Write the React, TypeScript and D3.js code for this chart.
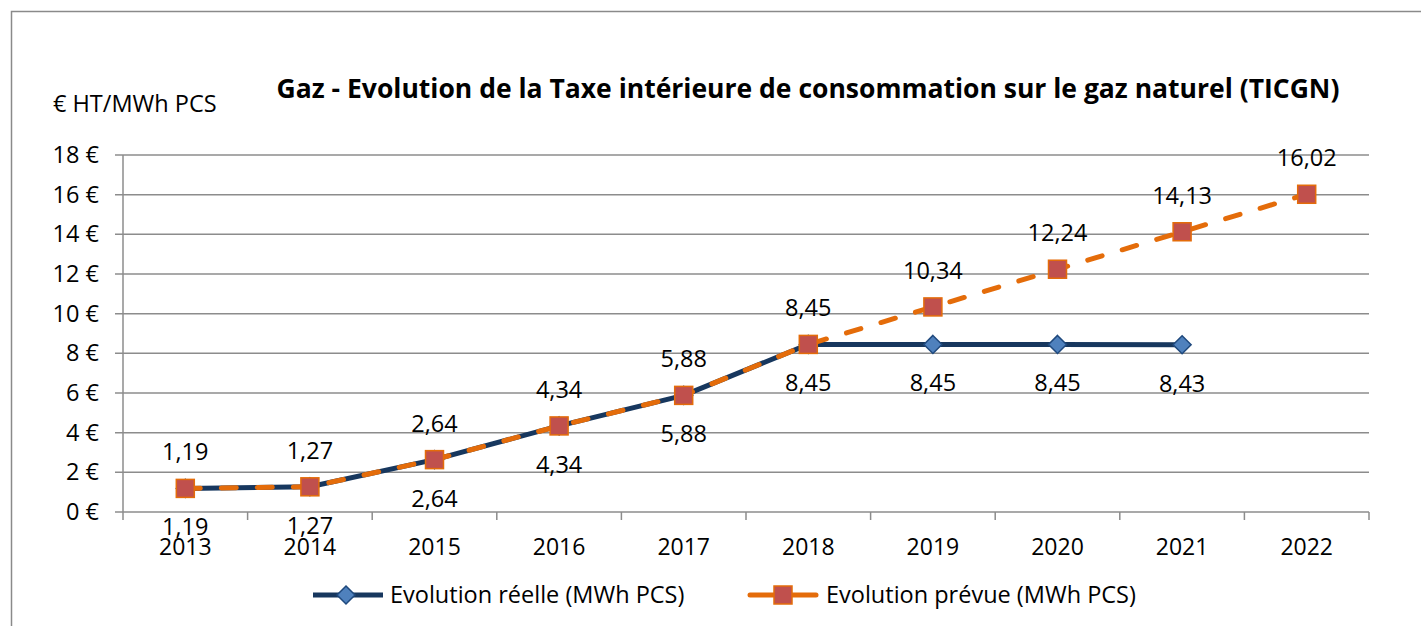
import React from "react";
import * as d3 from "d3";

const years = ["2013", "2014", "2015", "2016", "2017", "2018", "2019", "2020", "2021", "2022"];
const realValues: (number | null)[] = [1.19, 1.27, 2.64, 4.34, 5.88, 8.45, 8.45, 8.45, 8.43, null];
const plannedValues: (number | null)[] = [1.19, 1.27, 2.64, 4.34, 5.88, 8.45, 10.34, 12.24, 14.13, 16.02];
const yTicks = [0, 2, 4, 6, 8, 10, 12, 14, 16, 18];
const title = "Gaz - Evolution de la Taxe intérieure de consommation sur le gaz naturel (TICGN)";
const unitLabel = "€ HT/MWh PCS";
const realName = "Evolution réelle (MWh PCS)";
const plannedName = "Evolution prévue (MWh PCS)";

const W = 1421;
const H = 626;
const FONT = "'Open Sans', sans-serif";
const GRID = "#8c8c8c";
const BLUE = "#17375E";
const BLUE_FILL = "#4F81BD";
const BLUE_STROKE = "#1F497D";
const ORANGE = "#E46C0A";
const RED_FILL = "#C0504D";

const fmt = (v: number) => v.toFixed(2).replace(".", ",");

export default function App() {
  const x = d3.scaleBand<string>().domain(years).range([123, 1369]);
  const y = d3.scaleLinear().domain([0, 18]).range([512, 155]);
  const cx = (yr: string) => (x(yr) as number) + x.bandwidth() / 2;

  const line = d3
    .line<[string, number | null]>()
    .defined((d) => d[1] !== null)
    .x((d) => cx(d[0]))
    .y((d) => y(d[1] as number));

  const realPts = years.map((yr, i) => [yr, realValues[i]] as [string, number | null]);
  const planPts = years.map((yr, i) => [yr, plannedValues[i]] as [string, number | null]);

  const diamond = (px: number, py: number, r: number) =>
    `M${px},${py - r}L${px + r},${py}L${px},${py + r}L${px - r},${py}Z`;

  const boundaries = [...years.map((yr) => x(yr) as number), 1369];

  return (
    <svg
      width={W}
      height={H}
      style={{ position: "absolute", left: 0, top: 0, background: "#fff" }}
      fontFamily={FONT}
    >
      <rect x={11.5} y={11.5} width={W + 20} height={H + 20} fill="#fff" stroke="#8a8a8a" strokeWidth={1.5} />
      <text x={808} y={98} textAnchor="middle" fontSize={26.5} fontWeight="bold" fill="#000">
        {title}
      </text>
      <text x={53} y={112} fontSize={23.5} fill="#000">
        {unitLabel}
      </text>

      {yTicks.map((t) => (
        <g key={t}>
          <line x1={115} x2={1369} y1={y(t)} y2={y(t)} stroke={GRID} strokeWidth={1.5} />
          <text x={99} y={y(t) + 8} textAnchor="end" fontSize={23.5} fill="#000">
            {`${t} €`}
          </text>
        </g>
      ))}
      <line x1={123} x2={123} y1={y(18)} y2={y(0)} stroke={GRID} strokeWidth={1.5} />
      {boundaries.map((bx, i) => (
        <line key={i} x1={bx} x2={bx} y1={y(0)} y2={y(0) + 8} stroke={GRID} strokeWidth={1.5} />
      ))}
      {years.map((yr) => (
        <text key={yr} x={cx(yr)} y={555} textAnchor="middle" fontSize={23} fill="#000">
          {yr}
        </text>
      ))}

      <path d={line(realPts) || ""} fill="none" stroke={BLUE} strokeWidth={5} strokeLinejoin="round" />
      {realPts
        .filter((d) => d[1] !== null)
        .map((d) => (
          <path key={d[0]} d={diamond(cx(d[0]), y(d[1] as number), 9)} fill={BLUE_FILL} stroke={BLUE_STROKE} strokeWidth={1.5} />
        ))}
      <path
        d={line(planPts) || ""}
        fill="none"
        stroke={ORANGE}
        strokeWidth={5}
        strokeDasharray="15 21"
        strokeLinecap="round"
        strokeLinejoin="round"
      />
      {planPts
        .filter((d) => d[1] !== null)
        .map((d) => (
          <rect
            key={d[0]}
            x={cx(d[0]) - 9}
            y={y(d[1] as number) - 9}
            width={18}
            height={18}
            fill={RED_FILL}
            stroke={ORANGE}
            strokeWidth={1.5}
          />
        ))}

      {realPts
        .filter((d) => d[1] !== null)
        .map((d) => (
          <text key={"rl" + d[0]} x={cx(d[0])} y={y(d[1] as number) + 47} textAnchor="middle" fontSize={23.5} fill="#000">
            {fmt(d[1] as number)}
          </text>
        ))}
      {planPts
        .filter((d) => d[1] !== null)
        .map((d) => (
          <text key={"pl" + d[0]} x={cx(d[0])} y={y(d[1] as number) - 28} textAnchor="middle" fontSize={23.5} fill="#000">
            {fmt(d[1] as number)}
          </text>
        ))}

      <line x1={313} x2={383} y1={595} y2={595} stroke={BLUE} strokeWidth={5} />
      <path d={diamond(346, 595, 9)} fill={BLUE_FILL} stroke={BLUE_STROKE} strokeWidth={1.5} />
      <text x={390} y={603} fontSize={23.5} fill="#000">
        {realName}
      </text>
      <line x1={750} x2={816} y1={595} y2={595} stroke={ORANGE} strokeWidth={5} strokeLinecap="round" />
      <rect x={774} y={586} width={18} height={18} fill={RED_FILL} stroke={ORANGE} strokeWidth={1.5} />
      <text x={826} y={603} fontSize={23.5} fill="#000">
        {plannedName}
      </text>
    </svg>
  );
}
